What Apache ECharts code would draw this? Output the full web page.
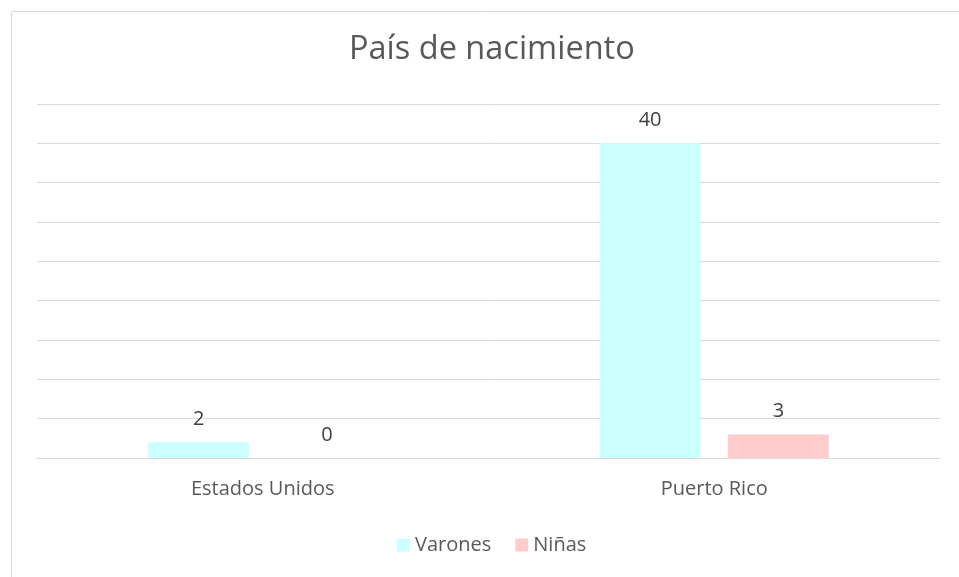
<!DOCTYPE html>
<html>
<head>
<meta charset="utf-8">
<script src="https://cdn.jsdelivr.net/npm/echarts@6/dist/echarts.min.js"></script>
<style>
  html, body { margin: 0; padding: 0; background: #fff; }
  #chart { width: 959px; height: 577px; }
</style>
</head>
<body>
<div id="chart"></div>
<script>
var categories = ["Estados Unidos", "Puerto Rico"];
var varones = [2, 40];
var ninas = [0, 3];

var FONT = "Open Sans";
var achart = echarts.init(document.getElementById("chart"));
var option = {
  backgroundColor: "#fff",
  animation: false,
  textStyle: {fontFamily: FONT},
  title: {
    text: "País de nacimiento",
    left: 344,
    top: 28,
    textStyle: {color: "#595959", fontSize: 32.5, fontWeight: "normal", fontFamily: FONT}
  },
  legend: {
    top: 530,
    left: 392,
    itemWidth: 13,
    itemHeight: 13,
    itemGap: 24,
    icon: "rect",
    textStyle: {color: "#595959", fontSize: 20, fontFamily: FONT},
    data: ["Varones", "Niñas"]
  },
  grid: {left: 37, right: 19, top: 104, bottom: 119, containLabel: false},
  xAxis: {
    type: "category",
    data: categories,
    axisLine: {lineStyle: {color: "#d9d9d9"}},
    axisTick: {show: false},
    axisLabel: {color: "#595959", fontSize: 20, margin: 21, fontFamily: FONT}
  },
  yAxis: {
    type: "value",
    min: 0,
    max: 45,
    interval: 5,
    axisLabel: {show: false},
    axisLine: {show: false},
    axisTick: {show: false},
    splitLine: {lineStyle: {color: "#d9d9d9"}}
  },
  series: [
    {
      name: "Varones",
      type: "bar",
      data: varones,
      barWidth: 101,
      barGap: "27%",
      itemStyle: {color: "#ccffff"},
      label: {show: true, position: "top", distance: 13, color: "#404040", fontSize: 20, fontFamily: FONT}
    },
    {
      name: "Niñas",
      type: "bar",
      data: ninas,
      barWidth: 101,
      itemStyle: {color: "#ffcccc"},
      label: {show: true, position: "top", distance: 13, color: "#404040", fontSize: 20, fontFamily: FONT}
    }
  ],
  graphic: [{
    type: "rect",
    left: 9, top: 9,
    shape: {width: 1200, height: 1200},
    style: {fill: "none", stroke: "#d9d9d9", lineWidth: 1},
    silent: true
  }]
};
achart.setOption(option);
</script>
</body>
</html>
